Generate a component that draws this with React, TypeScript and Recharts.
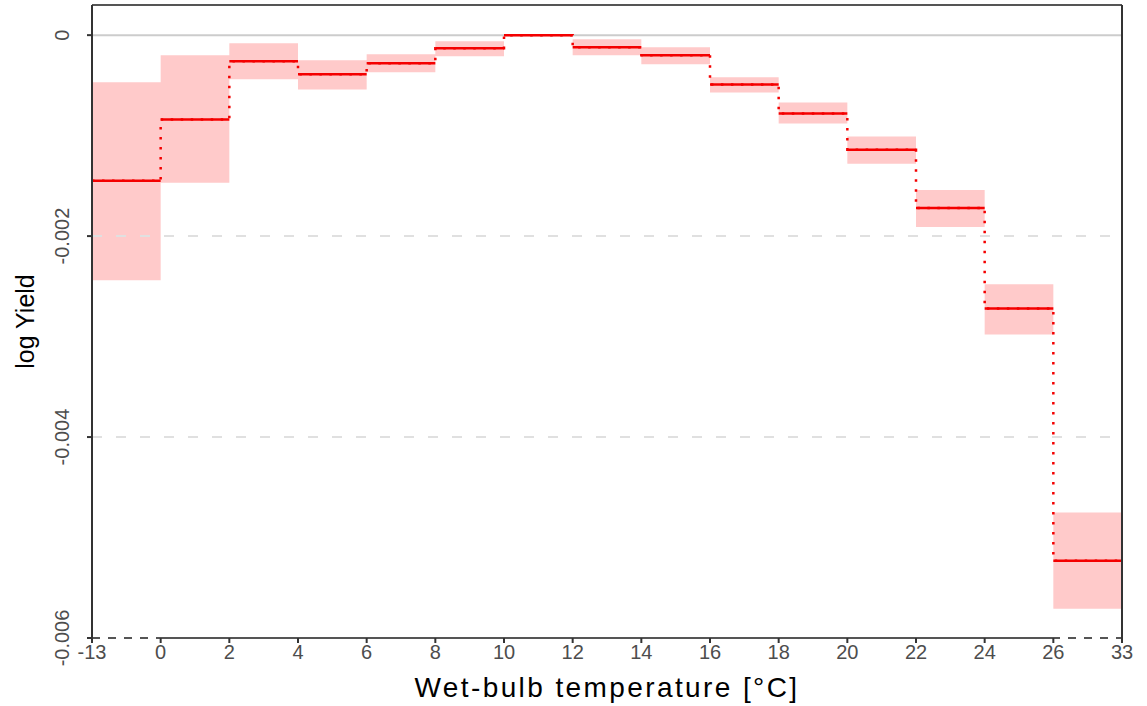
import React from 'react';
import {
  ComposedChart,
  Area,
  Line,
  XAxis,
  YAxis,
  ReferenceLine,
} from 'recharts';

// bin edges, shown as x tick labels
const binLabels = ['-13', '0', '2', '4', '6', '8', '10', '12', '14', '16', '18', '20', '22', '24', '26', '33'];

// coefficient per bin (10-12 is the reference bin)
const coef = [-0.00145, -0.00084, -0.00026, -0.00039, -0.00028, -0.00013, 0, -0.00012, -0.0002, -0.00049, -0.00078, -0.00114, -0.00172, -0.00272, -0.00523];
const upper = [-0.00047, -0.0002, -0.00008, -0.00025, -0.00019, -0.00006, 0, -0.00004, -0.00012, -0.00042, -0.00067, -0.00101, -0.00154, -0.00248, -0.00475];
const lower = [-0.00244, -0.00147, -0.00044, -0.00054, -0.00037, -0.00021, 0, -0.0002, -0.00029, -0.00057, -0.00088, -0.00128, -0.00191, -0.00298, -0.00571];

const yTicks = [0, -0.002, -0.004, -0.006];

const FONT = '"Liberation Sans", Arial, sans-serif';
const RED = '#f40000';
const BAND = '#ffcaca';
const AXIS = '#333333';

// step data at bin edges, last edge repeats the last bin
const stepData = binLabels.map((_, i) => {
  const k = Math.min(i, coef.length - 1);
  return { x: i, coef: coef[k], band: [lower[k], upper[k]] };
});

const formatY = (v: number) => (v === 0 ? '0' : v.toFixed(3));

const YTick = (props: any) => {
  const { x, y, payload } = props;
  return (
    <text
      x={0}
      y={0}
      transform={`translate(${x - 16},${y}) rotate(-90)`}
      textAnchor="middle"
      fill="#4d4d4d"
      fontSize={20}
      fontFamily={FONT}
    >
      {formatY(payload.value)}
    </text>
  );
};

const YTitle = (props: any) => {
  const { viewBox } = props;
  const cy = viewBox.y + viewBox.height / 2;
  return (
    <text
      x={0}
      y={0}
      transform={`translate(34,${cy}) rotate(-90)`}
      textAnchor="middle"
      fill="#000"
      fontSize={25}
      fontFamily={FONT}
    >
      log Yield
    </text>
  );
};

const XTitle = (props: any) => {
  const { viewBox } = props;
  return (
    <text
      x={viewBox.x + viewBox.width / 2}
      y={viewBox.y + viewBox.height - 9}
      textAnchor="middle"
      fill="#000"
      fontSize={28}
      letterSpacing={2.4}
      fontFamily={FONT}
    >
      Wet-bulb temperature [°C]
    </text>
  );
};

export default function App() {
  return (
    <div style={{ position: 'absolute', left: 0, top: 0, background: '#fff' }}>
      <ComposedChart
        width={1147}
        height={706}
        data={stepData}
        margin={{ top: 5, right: 25, left: 0, bottom: 0 }}
      >
        <XAxis
          type="number"
          dataKey="x"
          domain={[0, binLabels.length - 1]}
          ticks={binLabels.map((_, i) => i)}
          tickFormatter={(v) => binLabels[v]}
          interval={0}
          height={68}
          axisLine={false}
          tickLine={{ stroke: AXIS, strokeWidth: 2 }}
          tickSize={5}
          tick={{ fill: '#4d4d4d', fontSize: 20, fontFamily: FONT }}
          label={<XTitle />}
        />
        <YAxis
          type="number"
          domain={[-0.006, 0.0003]}
          ticks={yTicks}
          width={92}
          axisLine={false}
          tickLine={{ stroke: AXIS, strokeWidth: 2 }}
          tickSize={5}
          tick={<YTick />}
          allowDataOverflow
          label={<YTitle />}
        />

        {/* grid */}
        <ReferenceLine y={0} stroke="#cccccc" strokeWidth={2} />
        <ReferenceLine y={-0.002} stroke="#e0e0e0" strokeWidth={2} strokeDasharray="10 14" />
        <ReferenceLine y={-0.004} stroke="#e0e0e0" strokeWidth={2} strokeDasharray="10 14" />

        <Area
          type="stepAfter"
          dataKey="band"
          stroke="none"
          fill={BAND}
          fillOpacity={1}
          isAnimationActive={false}
          activeDot={false}
        />
        <Line
          type="stepAfter"
          dataKey="coef"
          stroke={RED}
          strokeWidth={2.5}
          strokeDasharray="2.5 7.5"
          dot={false}
          activeDot={false}
          isAnimationActive={false}
        />
        {coef.map((v, i) => (
          <ReferenceLine
            key={`seg-${i}`}
            segment={[{ x: i, y: v }, { x: i + 1, y: v }]}
            stroke={RED}
            strokeWidth={2.5}
          />
        ))}

        {/* frame */}
        <ReferenceLine y={-0.006} stroke="#555" strokeWidth={2} strokeDasharray="8 8" />
        <ReferenceLine segment={[{ x: 1, y: -0.006 }, { x: 14, y: -0.006 }]} stroke="#555" strokeWidth={2} />
        <ReferenceLine y={0.0003} stroke="#555" strokeWidth={2} />
        <ReferenceLine x={0} stroke={AXIS} strokeWidth={2} />
        <ReferenceLine x={binLabels.length - 1} stroke={AXIS} strokeWidth={2} />
      </ComposedChart>
    </div>
  );
}
